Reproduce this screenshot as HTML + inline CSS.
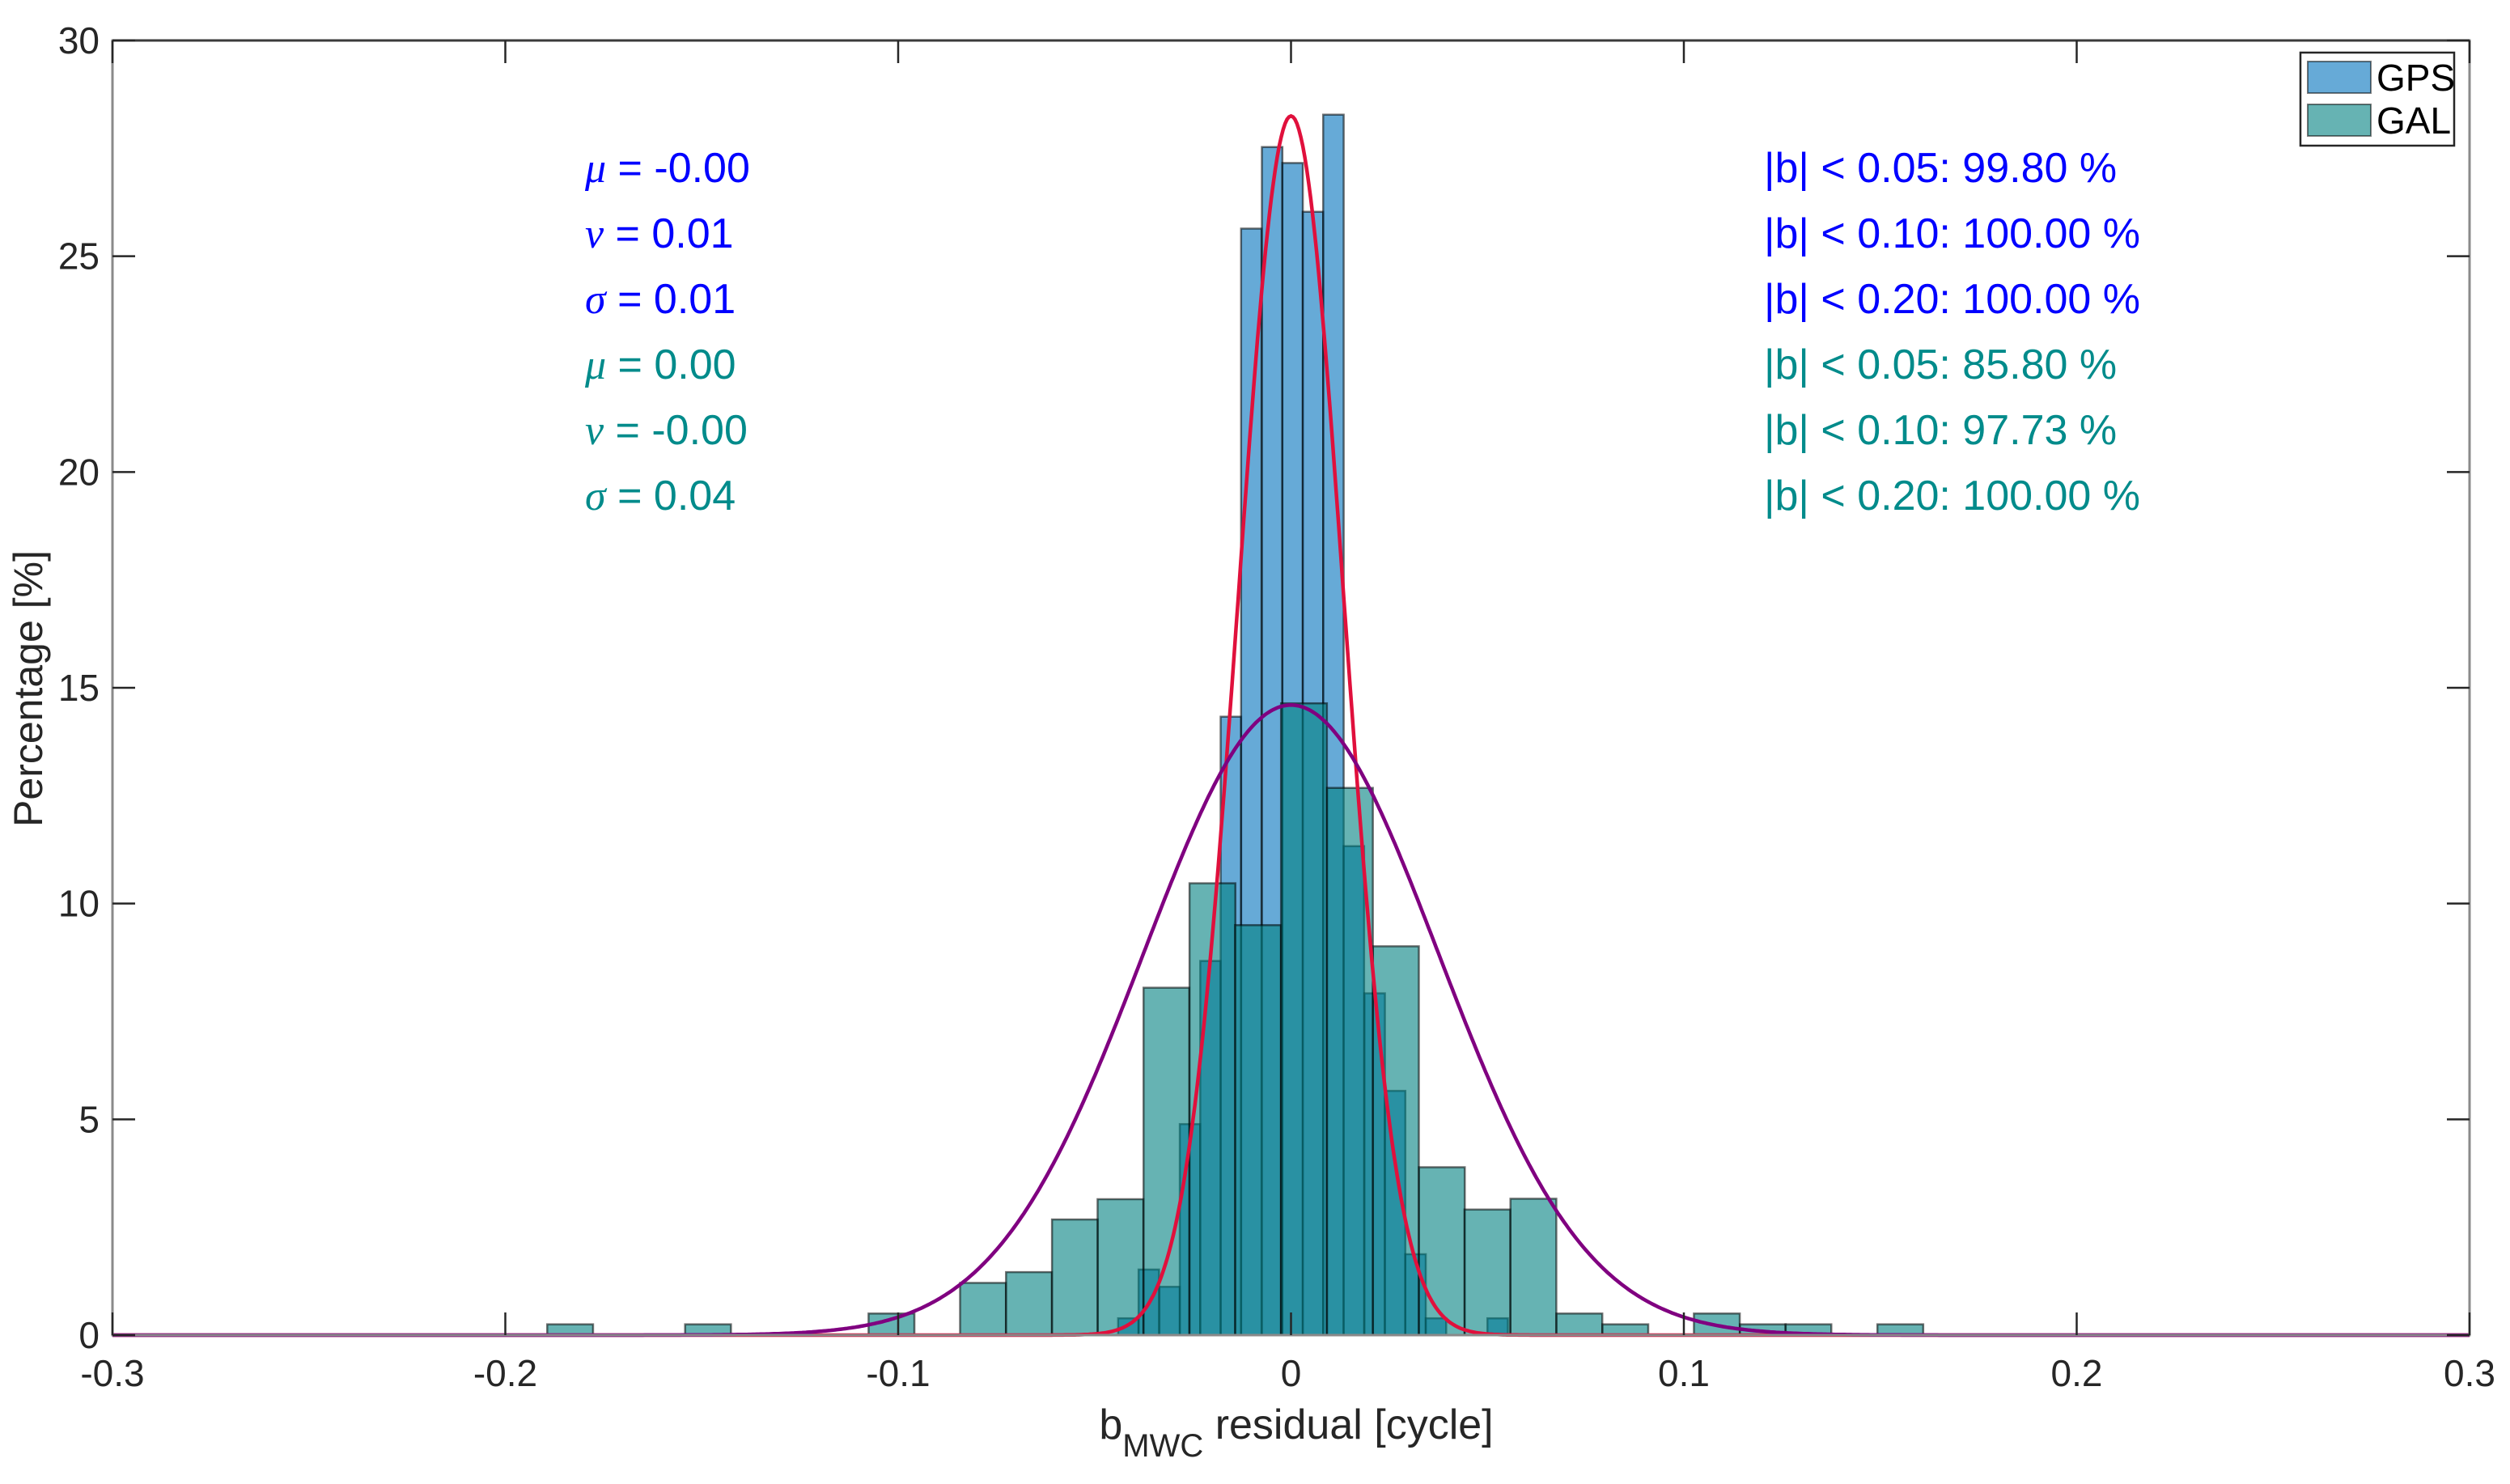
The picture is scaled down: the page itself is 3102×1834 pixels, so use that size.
<!DOCTYPE html>
<html><head><meta charset="utf-8"><style>
html,body{margin:0;padding:0;background:#fff;}
svg{display:block;font-family:"Liberation Sans",Arial,sans-serif;}
</style></head><body>
<svg id="chart" width="3102" height="1834" viewBox="0 0 3102 1834" xmlns="http://www.w3.org/2000/svg">
<rect width="3102" height="1834" fill="#fff"/>
<g id="bars-gps"></g>
<g id="bars-gal"></g>
<g id="curves"></g>
<g id="axes"></g>
<g font-size="52" fill="#0000ff">
<text x="723" y="225"><tspan font-family="Liberation Serif,serif" font-style="italic">μ</tspan> = -0.00</text>
<text x="723" y="306"><tspan font-family="Liberation Serif,serif" font-style="italic">ν</tspan> = 0.01</text>
<text x="723" y="387"><tspan font-family="Liberation Serif,serif" font-style="italic">σ</tspan> = 0.01</text>
<text x="2180" y="225">|b| &lt; 0.05: 99.80 %</text>
<text x="2180" y="306">|b| &lt; 0.10: 100.00 %</text>
<text x="2180" y="387">|b| &lt; 0.20: 100.00 %</text>
</g>
<g font-size="52" fill="#008b8b">
<text x="723" y="468"><tspan font-family="Liberation Serif,serif" font-style="italic">μ</tspan> = 0.00</text>
<text x="723" y="549"><tspan font-family="Liberation Serif,serif" font-style="italic">ν</tspan> = -0.00</text>
<text x="723" y="630"><tspan font-family="Liberation Serif,serif" font-style="italic">σ</tspan> = 0.04</text>
<text x="2180" y="468">|b| &lt; 0.05: 85.80 %</text>
<text x="2180" y="549">|b| &lt; 0.10: 97.73 %</text>
<text x="2180" y="630">|b| &lt; 0.20: 100.00 %</text>
</g>
<g>
<rect x="2843" y="65" width="190" height="115" fill="#fff" stroke="#262626" stroke-width="2.5"/>
<rect x="2852" y="76" width="78" height="39" fill="#0072bd" fill-opacity="0.6" stroke="#000" stroke-opacity="0.5" stroke-width="2"/>
<text x="2937" y="112" font-size="46" fill="#000">GPS</text>
<rect x="2852" y="129" width="78" height="39" fill="#008080" fill-opacity="0.6" stroke="#000" stroke-opacity="0.5" stroke-width="2"/>
<text x="2937" y="165" font-size="46" fill="#000">GAL</text>
</g>
<text x="1602" y="1778" font-size="52" fill="#262626" text-anchor="middle">b<tspan font-size="40" dy="22">MWC</tspan><tspan dy="-22"> residual [cycle]</tspan></text>
<text transform="translate(52,851) rotate(-90)" font-size="50" fill="#262626" text-anchor="middle">Percentage [%]</text>
</svg>
<script>
const gpsCenters=[-0.0414,-0.0362,-0.0309,-0.0257,-0.0205,-0.0153,-0.0101,-0.0048,0.0004,0.0056,0.0108,0.0160,0.0213,0.0265,0.0317,0.0369,0.0526];
const gpsValues=[0.39,1.52,1.12,4.89,8.67,14.33,25.64,27.53,27.16,26.03,28.28,11.33,7.92,5.66,1.875,0.39,0.39];
const gpsBinWidth=0.005218;
const galCenters=[-0.1835,-0.1484,-0.1017,-0.0784,-0.0667,-0.0550,-0.0434,-0.0317,-0.0200,-0.0084,0.0033,0.0150,0.0267,0.0384,0.0500,0.0617,0.0734,0.0851,0.1084,0.1201,0.1317,0.1551];
const galValues=[0.25,0.25,0.5,1.21,1.46,2.68,3.15,8.05,10.47,9.5,14.64,12.68,9.01,3.89,2.91,3.16,0.5,0.25,0.5,0.25,0.25,0.25];
const galBinWidth=0.011674;
const gpsFit=[0.0,0.0134,28.25];
const galFit=[0.0,0.0375,14.6];
const xTicks=[-0.3,-0.2,-0.1,0,0.1,0.2,0.3];
const xTickLabels=["-0.3","-0.2","-0.1","0","0.1","0.2","0.3"];
const yTicks=[0,5,10,15,20,25,30];
const yTickLabels=["0","5","10","15","20","25","30"];

const NS="http://www.w3.org/2000/svg";
const L=139,R=3052,T=50,B=1650;
const sx=v=>L+(v+0.3)/0.6*(R-L);
const sy=v=>B-v/30*(B-T);
function mk(tag,attrs,parent){const e=document.createElementNS(NS,tag);for(const k in attrs)e.setAttribute(k,attrs[k]);parent.appendChild(e);return e;}

const gGps=document.getElementById('bars-gps');
gpsCenters.forEach((c,i)=>{
  const x0=sx(c-gpsBinWidth/2),x1=sx(c+gpsBinWidth/2);
  const r=mk('rect',{x:x0,y:sy(gpsValues[i]),width:x1-x0,height:sy(0)-sy(gpsValues[i]),fill:'#0072bd','fill-opacity':0.6,stroke:'#000','stroke-opacity':0.55,'stroke-width':2.5},gGps);
  
  
});
const gGal=document.getElementById('bars-gal');
galCenters.forEach((c,i)=>{
  const x0=sx(c-galBinWidth/2),x1=sx(c+galBinWidth/2);
  const r=mk('rect',{x:x0,y:sy(galValues[i]),width:x1-x0,height:sy(0)-sy(galValues[i]),fill:'#008080','fill-opacity':0.6,stroke:'#000','stroke-opacity':0.55,'stroke-width':2.5},gGal);
  
  
});
const gC=document.getElementById('curves');
function curve(p,color,name){
  let d='';
  for(let i=0;i<=1200;i++){const x=-0.3+0.6*i/1200;const y=p[2]*Math.exp(-0.5*Math.pow((x-p[0])/p[1],2));d+=(i?'L':'M')+sx(x).toFixed(1)+','+sy(y).toFixed(1);}
  const e=mk('path',{d:d,fill:'none',stroke:color,'stroke-width':4.5},gC);
  
  
}
curve(gpsFit,'#e0103c','gps-fit-curve');
curve(galFit,'#800080','gal-fit-curve');

const gA=document.getElementById('axes');
const frame=mk('rect',{x:L,y:T,width:R-L,height:B-T,fill:'none',stroke:'#8a8a8a','stroke-width':3},gA);


mk('line',{x1:L,y1:T,x2:R,y2:T,stroke:'#3a3a3a','stroke-width':3},gA);
xTicks.forEach((v,i)=>{
  const x=sx(v);
  mk('line',{x1:x,y1:B,x2:x,y2:B-28,stroke:'#262626','stroke-width':2.5},gA);
  mk('line',{x1:x,y1:T,x2:x,y2:T+28,stroke:'#262626','stroke-width':2.5},gA);
  const t=mk('text',{x:x,y:1713,'font-size':46,fill:'#262626','text-anchor':'middle'},gA);
  t.textContent=xTickLabels[i];
  
  
});
yTicks.forEach((v,i)=>{
  const y=sy(v);
  mk('line',{x1:L,y1:y,x2:L+28,y2:y,stroke:'#262626','stroke-width':2.5},gA);
  mk('line',{x1:R,y1:y,x2:R-28,y2:y,stroke:'#262626','stroke-width':2.5},gA);
  const t=mk('text',{x:123,y:y+16,'font-size':46,fill:'#262626','text-anchor':'end'},gA);
  t.textContent=yTickLabels[i];
  
  
});
</script>
</body></html>
